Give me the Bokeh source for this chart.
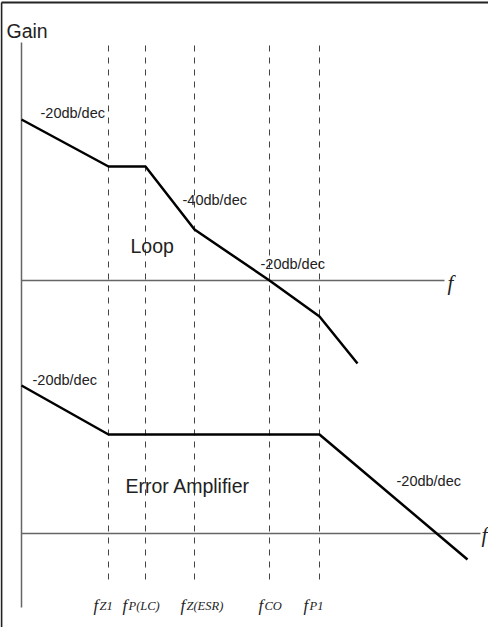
from bokeh.plotting import figure
from bokeh.models import Range1d
from bokeh.core.properties import value
from bokeh.embed import file_html
from bokeh.resources import INLINE

# ---- data (log-frequency units, gain units) ----
corner_main = ["f", "f", "f", "f", "f"]
corner_sub = ["Z1", "P(LC)", "Z(ESR)", "CO", "P1"]
corner_freq = [8.7, 12.4, 17.3, 24.8, 29.8]

loop_x = [0.0, 8.7, 12.4, 17.3, 24.8, 29.8, 33.6]
loop_gain = [16.1, 11.4, 11.4, 5.1, 0.0, -3.6, -8.3]

ea_x = [0.0, 8.7, 29.8, 44.6]
ea_gain = [14.8, 9.9, 9.9, -2.6]
ea_base = -25.3

slope_text = ["-20db/dec", "-40db/dec", "-20db/dec", "-20db/dec", "-20db/dec"]

# ---- layout ----
p = figure(width=488, height=627, output_backend="svg", toolbar_location=None,
           x_range=Range1d(-2.1, 46.7), y_range=Range1d(-34.7, 28.0),
           min_border=0)
p.axis.visible = False
p.grid.visible = False
p.outline_line_color = None
p.background_fill_color = "white"

SANS = value("Liberation Sans")
SERIF = value("Liberation Serif")

# frame border
p.line([-2.0, -2.0], [-34.7, 27.8], line_color="#222222", line_width=1.8)
p.line([-2.0, 46.7], [27.8, 27.8], line_color="#222222", line_width=1.8)

# axes
p.line([0, 0], [23.8, -32.7], line_color="#666666", line_width=1.5)
p.line([0, 42.3], [0, 0], line_color="#666666", line_width=1.5)
p.line([0, 45.9], [ea_base, ea_base], line_color="#666666", line_width=1.5)

# dashed corner-frequency lines
for fx in corner_freq:
    p.line([fx, fx], [23.5, -30.2], line_color="#444444", line_width=1,
           line_dash="6 6")

# curves
p.line(loop_x, loop_gain, line_color="black", line_width=2.5)
p.line(ea_x, [g + ea_base for g in ea_gain], line_color="black", line_width=2.5)

# slope labels
sx = [1.9, 16.1, 23.9, 1.1, 37.5]
sy = [16.8, 8.1, 1.7, -9.9, -20.0]
p.text(x=sx, y=sy, text=slope_text, text_font=SANS, text_font_size="14.5px",
       text_baseline="middle", text_align="left", text_color="#222222")

p.text(x=[-1.5], y=[24.95], text=["Gain"], text_font=SANS, text_font_size="19.5px",
       text_baseline="middle", text_color="#222222")
p.text(x=[10.9], y=[3.5], text=["Loop"], text_font=SANS, text_font_size="19.5px",
       text_baseline="middle", text_color="#222222")
p.text(x=[10.4], y=[-20.5], text=["Error Amplifier"], text_font=SANS,
       text_font_size="19.5px", text_baseline="middle", text_color="#222222")

# axis 'f' labels
p.text(x=[42.6, 46.0], y=[-0.2, ea_base - 0.1], text=["f", "f"], text_font=SERIF,
       text_font_style="italic", text_font_size="21px", text_baseline="middle",
       text_color="#222222")

# corner frequency labels
dx = [-15, -23, -14, -11, -16]
p.text(x=corner_freq, y=[-32.5] * 5, text=corner_main, x_offset=dx,
       text_font=SERIF, text_font_style="italic", text_font_size="17px",
       text_baseline="alphabetic", text_color="#222222")
p.text(x=corner_freq, y=[-32.5] * 5, text=corner_sub, x_offset=[d + 6 for d in dx],
       text_font=SERIF, text_font_style="italic", text_font_size="12.5px",
       text_baseline="alphabetic", text_color="#222222")

open("out.html", "w").write(file_html(p, INLINE))
